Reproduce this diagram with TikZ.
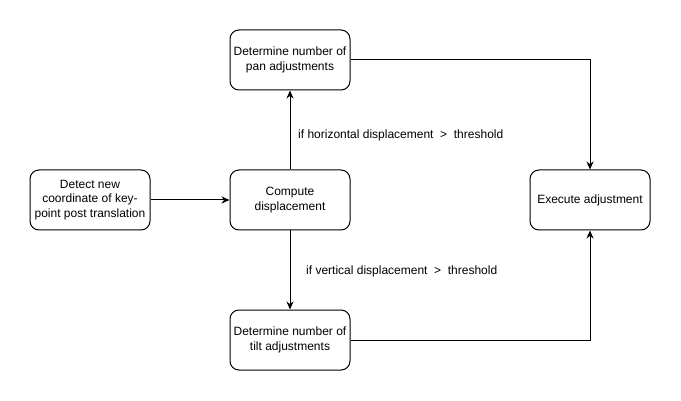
\documentclass[tikz,border=0pt]{standalone}
\usepackage{fontspec}
\setmainfont{Liberation Sans}
\usetikzlibrary{arrows.meta}

\begin{document}
\begin{tikzpicture}[x=1pt,y=-1pt,
        box/.style={draw, line width=1pt, rounded corners=9pt, minimum width=120pt, minimum height=60pt, align=center, inner sep=2pt, font=\fontsize{12}{14.5}\selectfont},
        flow/.style={draw, line width=1pt, -{Stealth[length=8pt,width=7pt]}},
        cond/.style={anchor=west, inner sep=0pt, font=\fontsize{12}{14.5}\selectfont}]
        \useasboundingbox (0,0) rectangle (681,401);
        % Boxes
        \node[box] (detect) at (90,200) {Detect new\\coordinate of key-\\point post translation};
        \node[box] (compute) at (290,200) {Compute\\displacement};
        \node[box] (pan) at (290,60) {Determine number of\\pan adjustments};
        \node[box] (tilt) at (290,340) {Determine number of\\tilt adjustments};
        \node[box] (execute) at (590,200) {Execute adjustment};
        % Connectors
        \draw[flow] (detect) -- (compute);
        \draw[flow] (compute) -- (pan);
        \draw[flow] (compute) -- (tilt);
        \draw[flow] (pan.east) -| (execute.north);
        \draw[flow] (tilt.east) -| (execute.south);
        % Conditions
        \node[cond] (horiz) at (298,135) {if horizontal displacement\ \ >\ \ threshold};
        \node[cond] (vert) at (306,271) {if vertical displacement\ \ >\ \ threshold};
    \end{tikzpicture}
\end{document}
